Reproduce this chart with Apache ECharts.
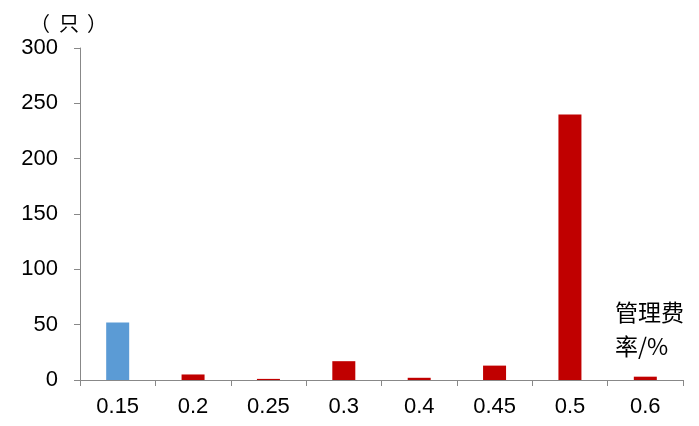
<!DOCTYPE html>
<html><head><meta charset="utf-8">
<script src="https://cdn.jsdelivr.net/npm/echarts@6/dist/echarts.min.js"></script>
<style>html,body{margin:0;padding:0;background:#fff}#c{width:699px;height:426px}</style>
</head><body><div id="c"></div>
<script>
const categories = ['0.15','0.2','0.25','0.3','0.4','0.45','0.5','0.6'];
const counts = [52, 5, 1, 17, 2, 13, 240, 3];
const highlightCategory = '0.15';
const yTicks = [0, 50, 100, 150, 200, 250, 300];
const unitParts = ['（', '只', '）'];
const xName = '管理费\n率/%';

const unitX = [40, 69, 97];
const chart = echarts.init(document.getElementById('c'));
chart.setOption({
  animation: false,
  grid: {left: 80, right: 16, top: 48, bottom: 46},
  xAxis: {
    type: 'category', data: categories,
    axisLine: {lineStyle: {color: '#888', width: 1}},
    axisTick: {show: true, length: 6, lineStyle: {color: '#888'}},
    axisLabel: {color: '#000', fontSize: 22, fontFamily: 'Liberation Sans, Arial', margin: 16}
  },
  yAxis: {
    type: 'value', min: yTicks[0], max: yTicks[yTicks.length-1], interval: 50,
    axisLine: {show: true, lineStyle: {color: '#888', width: 1}},
    axisTick: {show: true, length: 6, lineStyle: {color: '#888'}},
    splitLine: {show: false},
    axisLabel: {color: '#000', fontSize: 22, fontFamily: 'Liberation Sans, Arial', margin: 22}
  },
  series: [{
    type: 'bar', barWidth: 23,
    data: counts.map((v, i) => ({value: v, itemStyle: {color: categories[i] === highlightCategory ? '#5B9BD5' : '#C00000'}}))
  }],
  graphic: unitParts.map((t, i) => ({
    type: 'text', x: unitX[i], y: 25,
    style: {text: t, fontSize: 20, fill: '#000', fontFamily: 'Liberation Sans, Noto Sans CJK SC', align: 'center', verticalAlign: 'middle'}
  })).concat([
    {type: 'text', left: 615, top: 295, style: {text: xName, fontSize: 23, lineHeight: 34, fill: '#000', fontFamily: 'Noto Sans CJK SC'}}
  ])
});
</script></body></html>
